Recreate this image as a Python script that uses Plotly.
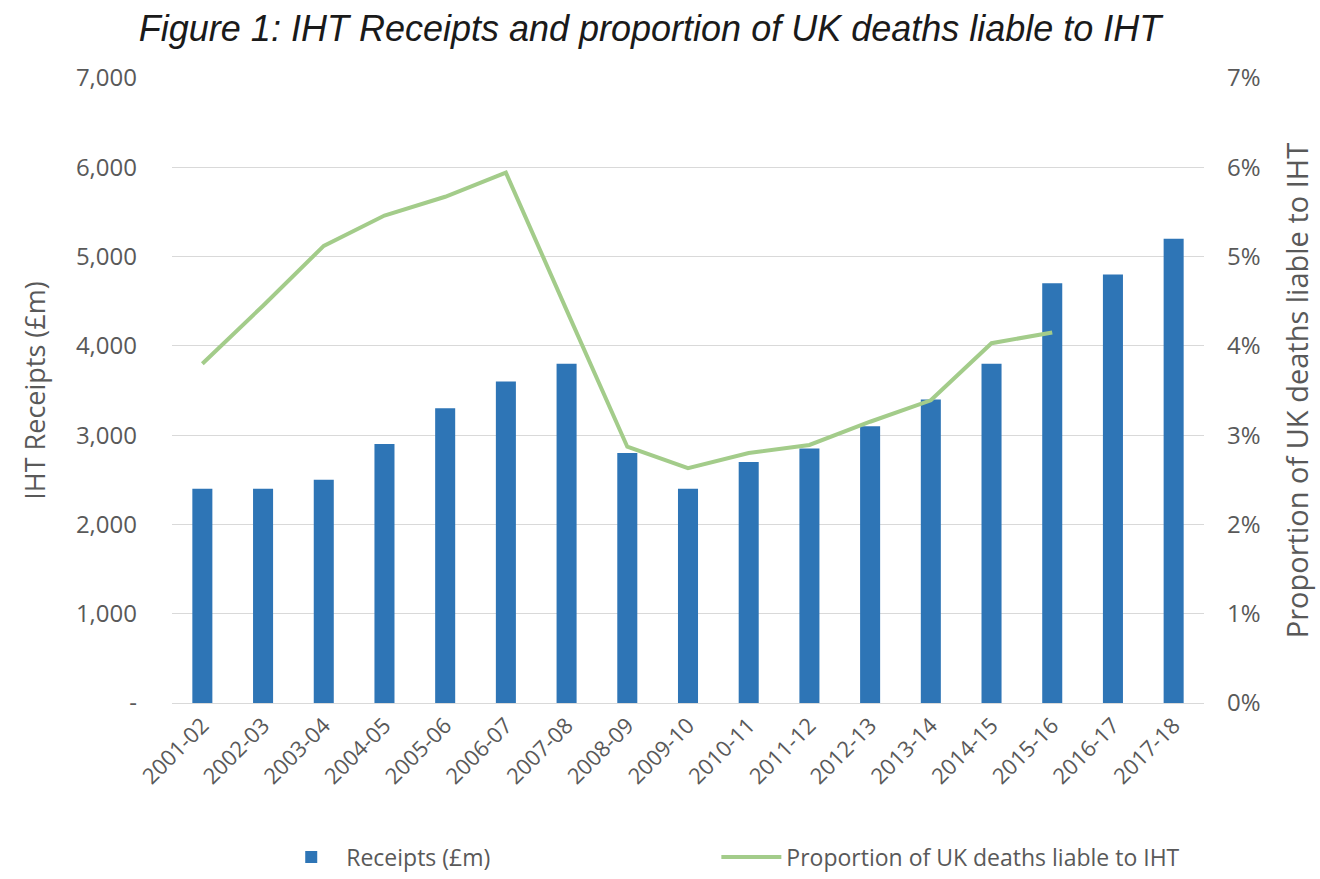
import plotly.graph_objects as go

years = ["2001-02", "2002-03", "2003-04", "2004-05", "2005-06", "2006-07", "2007-08",
         "2008-09", "2009-10", "2010-11", "2011-12", "2012-13", "2013-14", "2014-15",
         "2015-16", "2016-17", "2017-18"]
receipts = [2400, 2400, 2500, 2900, 3300, 3600, 3800, 2800, 2400, 2700, 2850, 3100,
            3400, 3800, 4700, 4800, 5200]
proportion = [3.80, 4.45, 5.12, 5.46, 5.67, 5.94, 4.40, 2.87, 2.63, 2.80, 2.89, 3.15,
              3.39, 4.03, 4.15, None, None]
left_ticks = [0, 1000, 2000, 3000, 4000, 5000, 6000, 7000]
left_labels = ["-", "1,000", "2,000", "3,000", "4,000", "5,000", "6,000", "7,000"]
right_ticks = [0, 1, 2, 3, 4, 5, 6, 7]
right_labels = ["0%", "1%", "2%", "3%", "4%", "5%", "6%", "7%"]

grey = "#595959"
font_fam = "Open Sans, DejaVu Sans, sans-serif"

fig = go.Figure()
fig.add_trace(go.Bar(x=years, y=receipts, name="Receipts (£m)" + "\u00a0" * 37,
                     marker=dict(color="#2E75B6", line=dict(width=0))))
fig.add_trace(go.Scatter(x=years, y=proportion, name="Proportion of UK deaths liable to IHT",
                         mode="lines", yaxis="y2", connectgaps=False,
                         line=dict(color="#A3CC8A", width=4)))

fig.update_layout(
    width=1320, height=879,
    paper_bgcolor="white", plot_bgcolor="white",
    margin=dict(l=172, r=116, t=78, b=176),
    bargap=0.67,
    title=dict(text="<i>Figure 1: IHT Receipts and proportion of UK deaths liable to IHT</i>",
               x=0.4925, xanchor="center", y=0.968, yanchor="middle",
               font=dict(family="Liberation Sans, Arial, sans-serif", size=36, color="#1a1a1a")),
    xaxis=dict(type="category", tickangle=-45, automargin=False,
               tickfont=dict(family=font_fam, size=22, color=grey),
               showgrid=False, showline=True, linecolor="#d9d9d9", linewidth=1,
               ticks="", ticklen=0),
    yaxis=dict(range=[0, 7000], tickvals=left_ticks, ticktext=left_labels, automargin=False,
               tickfont=dict(family=font_fam, size=24, color=grey),
               showgrid=True, gridcolor="#d9d9d9", gridwidth=1, zeroline=False,
               title=dict(text="IHT Receipts (£m)", font=dict(family=font_fam, size=27, color=grey),
                          standoff=22),
               ticks="", ticklabelstandoff=34),
    yaxis2=dict(range=[0, 7], tickvals=right_ticks, ticktext=right_labels, automargin=False,
                overlaying="y", side="right", showgrid=False, zeroline=False,
                tickfont=dict(family=font_fam, size=24, color=grey),
                title=dict(text="Proportion of UK deaths liable to IHT",
                           font=dict(family=font_fam, size=29, color=grey), standoff=28),
                ticks="", ticklabelstandoff=22),
    legend=dict(orientation="h", x=0.101, xanchor="left",
                yref="container", y=0.025, yanchor="middle",
                font=dict(family=font_fam, size=23, color=grey), itemwidth=60,
                bgcolor="rgba(0,0,0,0)"),
    showlegend=True,
)

fig.write_html("out.html")
